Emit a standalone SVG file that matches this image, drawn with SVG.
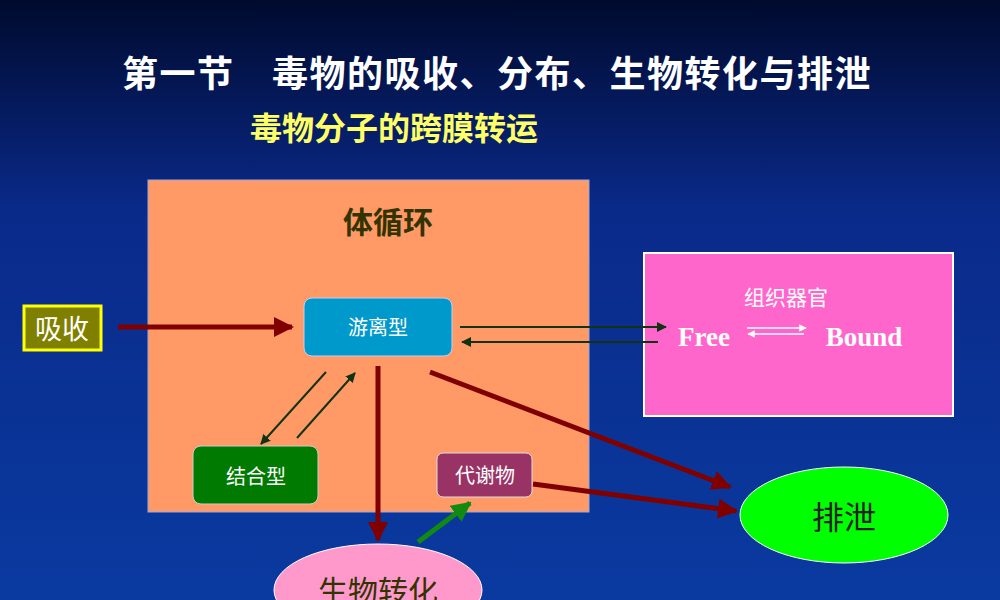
<svg xmlns="http://www.w3.org/2000/svg" width="1000" height="600" viewBox="0 0 1000 600">
<defs>
<linearGradient id="bg" x1="0" y1="0" x2="0" y2="1"><stop offset="0" stop-color="#000a2e"/><stop offset="0.35" stop-color="#0a2a8a"/><stop offset="1" stop-color="#0a3aa0"/></linearGradient>
<marker id="mr" viewBox="0 0 10 10" refX="9" refY="5" markerWidth="4" markerHeight="4" orient="auto"><path d="M0,0L10,5L0,10z" fill="#800000"/></marker>
<marker id="mg" viewBox="0 0 10 10" refX="9" refY="5" markerWidth="4" markerHeight="4" orient="auto"><path d="M0,0L10,5L0,10z" fill="#118a11"/></marker>
<marker id="md" viewBox="0 0 10 10" refX="9" refY="5" markerWidth="5" markerHeight="5" orient="auto"><path d="M0,0L10,5L0,10z" fill="#123312"/></marker>
<marker id="mw" viewBox="0 0 10 10" refX="9" refY="5" markerWidth="5" markerHeight="5" orient="auto"><path d="M0,0L10,5L0,10z" fill="#fff"/></marker>
</defs>
<style>
.cj{font-family:"Noto Sans CJK SC",sans-serif}
.r{stroke:#800000;stroke-width:5;fill:none;marker-end:url(#mr)}
.d{stroke:#123312;stroke-width:2;fill:none;marker-end:url(#md)}
</style>
<rect width="1000" height="600" fill="url(#bg)"/>
<text x="497" y="87" text-anchor="middle" class="cj" font-size="36" font-weight="bold" letter-spacing="1.5" fill="#fff">第一节　毒物的吸收、分布、生物转化与排泄</text>
<text x="394" y="140" text-anchor="middle" class="cj" font-size="32" font-weight="bold" fill="#ffff66">毒物分子的跨膜转运</text>
<g id="circ"><rect x="148" y="180" width="441" height="332" fill="#ff9966" stroke="#9aa8d8"/><text x="388" y="233" text-anchor="middle" class="cj" font-size="30" font-weight="bold" fill="#333300">体循环</text></g>
<g id="xs"><rect x="24" y="306" width="77" height="44" fill="#808000" stroke="#ffff00" stroke-width="3"/><text x="62" y="339" text-anchor="middle" class="cj" font-size="27" fill="#fff">吸收</text></g>
<g id="free"><rect x="304" y="298" width="148" height="58" rx="8" fill="#0099cc" stroke="#cce" /><text x="378" y="335" text-anchor="middle" class="cj" font-size="20" fill="#fff">游离型</text></g>
<g id="bound"><rect x="193" y="446" width="125" height="58" rx="8" fill="#007a00" stroke="#ccc"/><text x="256" y="484" text-anchor="middle" class="cj" font-size="20" fill="#fff">结合型</text></g>
<g id="met"><rect x="437" y="453" width="95" height="44" rx="6" fill="#993366" stroke="#ddd"/><text x="485" y="483" text-anchor="middle" class="cj" font-size="20" fill="#fff">代谢物</text></g>
<g id="tissue"><rect x="644" y="253" width="309" height="163" fill="#ff66cc" stroke="#fff" stroke-width="2"/><text x="786" y="305" text-anchor="middle" class="cj" font-size="21" fill="#fff">组织器官</text><text x="704" y="346" text-anchor="middle" font-family="Liberation Serif,serif" font-weight="bold" font-size="27" fill="#fff">Free</text><text x="864" y="346" text-anchor="middle" font-family="Liberation Serif,serif" font-weight="bold" font-size="27" fill="#fff">Bound</text>
<line x1="747" y1="328" x2="806" y2="328" stroke="#fff" stroke-width="1.5" marker-end="url(#mw)"/><line x1="804" y1="334" x2="748" y2="334" stroke="#fff" stroke-width="1.5" marker-end="url(#mw)"/></g>
<g id="exc"><ellipse cx="844" cy="515" rx="104" ry="48" fill="#00ff00" stroke="#fff"/><text x="844" y="529" text-anchor="middle" class="cj" font-size="32" fill="#222">排泄</text></g>
<g id="bio"><ellipse cx="378" cy="590" rx="104" ry="46" fill="#ff99cc" stroke="#fff"/><text x="378" y="602" text-anchor="middle" class="cj" font-size="30" fill="#333300">生物转化</text></g>
<g id="connectors">
<line class="r" x1="118" y1="327" x2="292" y2="327"/>
<line class="r" x1="378" y1="366" x2="378" y2="540"/>
<line class="r" x1="430" y1="372" x2="730" y2="487"/>
<line class="r" x1="533" y1="484" x2="736" y2="511"/>
<line x1="418" y1="542" x2="470" y2="503" stroke="#118a11" stroke-width="5" marker-end="url(#mg)"/>
<line class="d" x1="460" y1="327" x2="666" y2="327"/>
<line class="d" x1="658" y1="342" x2="462" y2="342"/>
<line class="d" x1="326" y1="372" x2="261" y2="444"/>
<line class="d" x1="297" y1="438" x2="355" y2="373"/>
</g>
</svg>
